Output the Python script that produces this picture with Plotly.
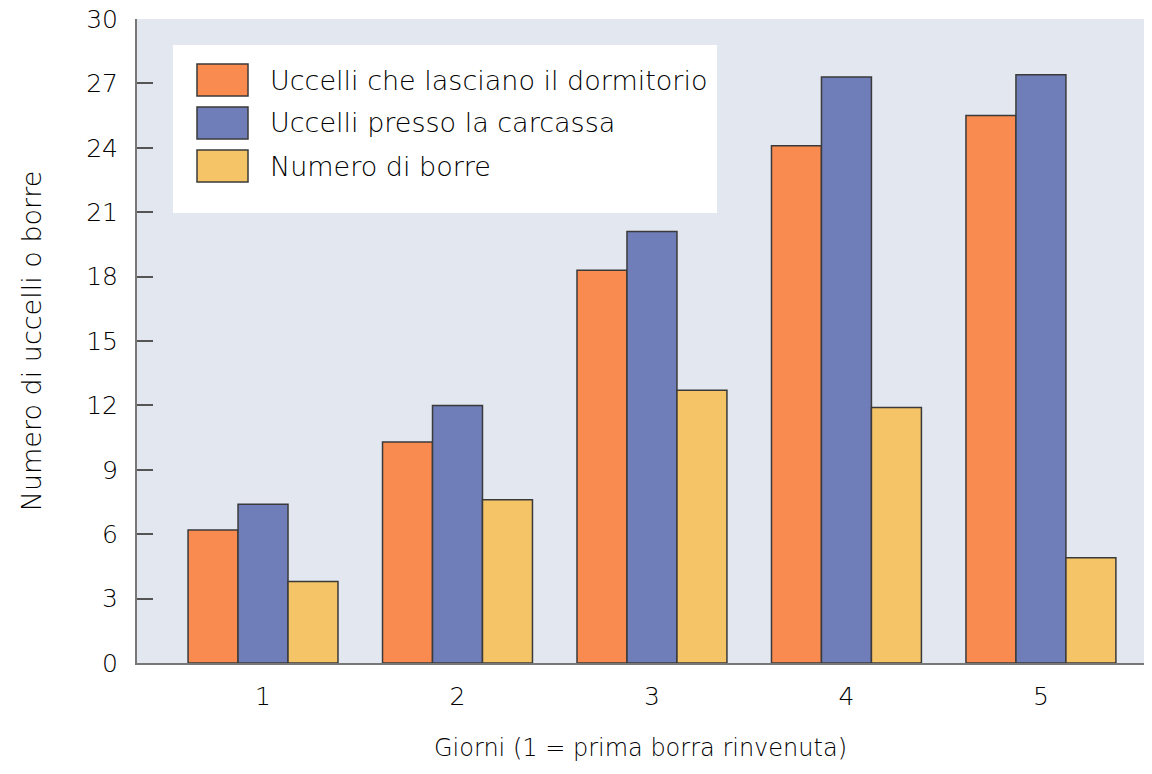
import plotly.graph_objects as go

giorni = [1, 2, 3, 4, 5]
serie = ["Uccelli che lasciano il dormitorio", "Uccelli presso la carcassa", "Numero di borre"]
lasciano = [6.2, 10.3, 18.3, 24.1, 25.5]
carcassa = [7.4, 12.0, 20.1, 27.3, 27.4]
borre = [3.8, 7.6, 12.7, 11.9, 4.9]
y_ticks = [0, 3, 6, 9, 12, 15, 18, 21, 24, 27, 30]

colori = ["#f98a50", "#6f7db8", "#f5c466"]
FONT = "DejaVu Sans"
TXT = "#000000"

# page has an 8px body margin, so the figure is a bit smaller than the window
FW, FH = 1136, 758
L, T = 129, 11
W, H = FW - L, 644

fig = go.Figure()
for nome, valori, col in zip(serie, [lasciano, carcassa, borre], colori):
    fig.add_trace(go.Bar(
        x=giorni, y=valori, name=nome,
        marker=dict(color=col, line=dict(color="#3a3a3a", width=1.5)),
        showlegend=False,
    ))

# legend drawn by hand so the swatches can be as big as in the original
def px(x):
    return (x - 8 - L) / W
def py(y):
    return (H + T - (y - 8)) / H

fig.add_shape(type="rect", xref="paper", yref="paper",
              x0=px(173), x1=px(717), y0=py(213), y1=py(45),
              fillcolor="white", line=dict(width=0), layer="above")
for i, (nome, col) in enumerate(zip(serie, colori)):
    top = 64 + i * 43
    fig.add_shape(type="rect", xref="paper", yref="paper",
                  x0=px(197), x1=px(248), y0=py(top + 32), y1=py(top),
                  fillcolor=col, line=dict(color="#3a3a3a", width=1.5), layer="above")
    fig.add_annotation(xref="paper", yref="paper", x=px(268), y=py(top + 16),
                       text=nome, showarrow=False, xanchor="left", yanchor="middle",
                       font=dict(family=FONT, size=27, color=TXT, weight=300))

fig.update_layout(
    width=FW, height=FH,
    margin=dict(l=L, r=0, t=T, b=FH - H - T, autoexpand=False),
    paper_bgcolor="white", plot_bgcolor="#e3e7f0",
    barmode="group", bargap=0.229, bargroupgap=0,
    font=dict(family=FONT, size=25, color=TXT, weight=300),
)
fig.update_xaxes(
    range=[0.352, 5.53], tickvals=giorni, ticks="", showgrid=False, zeroline=False,
    showline=True, linecolor="#777777", linewidth=2, automargin=False,
    ticklabelstandoff=10,
    title=dict(text="Giorni (1 = prima borra rinvenuta)", font=dict(size=24), standoff=29),
)
fig.update_yaxes(
    range=[0, 30], tickvals=y_ticks, ticks="inside", ticklen=16, tickwidth=1.5,
    tickcolor="#555555", showgrid=False, zeroline=False,
    showline=True, linecolor="#777777", linewidth=2, automargin=False,
    ticklabelstandoff=12, ticklabeloverflow="allow",
    title=dict(text="Numero di uccelli o borre", font=dict(size=27), standoff=37),
)

fig.write_html("out.html")
